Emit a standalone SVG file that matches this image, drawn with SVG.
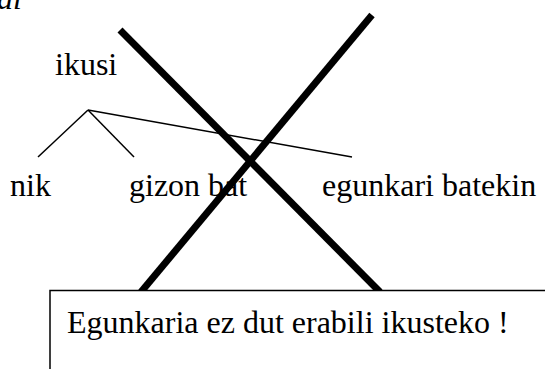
<svg xmlns="http://www.w3.org/2000/svg" width="545" height="369" viewBox="0 0 545 369">
  <style>
    text { font-family: "Liberation Serif", "DejaVu Serif", serif; fill: #000; font-size: 32px; }
    .thin { stroke: #000; stroke-width: 1.5; fill: none; }
    .cross { stroke: #000; stroke-width: 7; fill: none; }
  </style>
  <rect width="545" height="369" fill="#fff"/>
  <text x="-3" y="9" font-style="italic">al</text>
  <g id="ikusi"><text x="55" y="75">ikusi</text></g>
  <g id="nik"><text x="10" y="196">nik</text></g>
  <g id="gizon-bat"><text x="129" y="196">gizon bat</text></g>
  <g id="egunkari-batekin"><text x="322" y="196">egunkari batekin</text></g>
  <g id="connectors">
    <line class="thin" x1="88" y1="110" x2="38" y2="157"/>
    <line class="thin" x1="88" y1="110" x2="134" y2="157"/>
    <line class="thin" x1="88" y1="110" x2="352" y2="157"/>
  </g>
  <g id="cross">
    <line class="cross" x1="120" y1="30" x2="380" y2="292"/>
    <line class="cross" x1="372" y1="15" x2="141" y2="292"/>
  </g>
  <g id="note">
    <rect x="50" y="290.5" width="520" height="100" fill="#fff" stroke="#000" stroke-width="1.5"/>
    <text x="67" y="333">Egunkaria ez dut erabili ikusteko !</text>
  </g>
</svg>
